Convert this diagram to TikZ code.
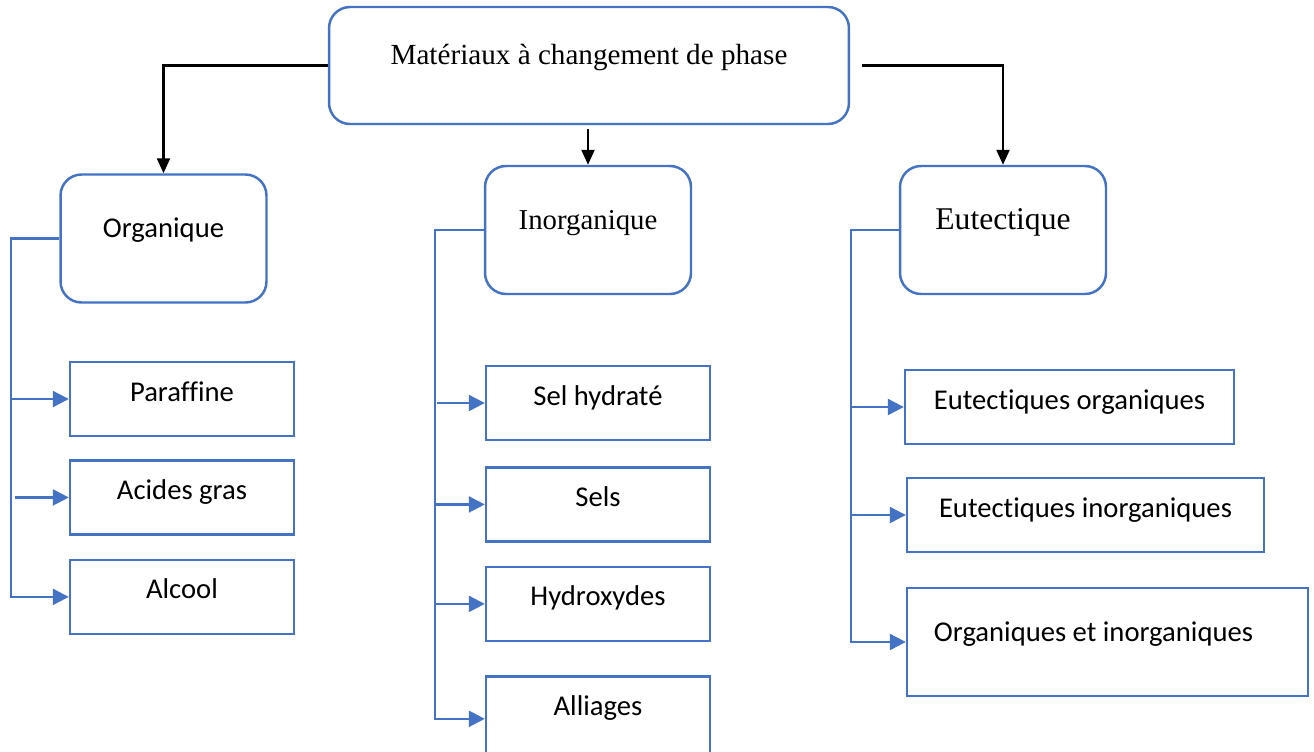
\documentclass[tikz,border=0pt]{standalone}
\usepackage{fontspec}
\setmainfont{Carlito}[Ligatures=NoCommon]
\newfontfamily\timesfont{Liberation Serif}
\usepackage{xcolor}
\usetikzlibrary{positioning,arrows.meta}
\definecolor{ofblue}{RGB}{68,114,196}

\begin{document}
\begin{tikzpicture}[%
    x=0.02cm,
    y=-0.02cm,
    >={Triangle[length=0.3cm,width=0.26cm]},
    font=\fontsize{16.3}{19}\selectfont,
    headbox/.style={%
      rectangle,
      rounded corners=0.42cm,
      draw=ofblue,
      line width=1.4pt,
      minimum width=4.12cm,
      minimum height=2.56cm,
      inner sep=0pt,
      text height=12pt,
      text depth=13pt
    },
    subbox/.style={%
      rectangle,
      draw=ofblue,
      line width=1.4pt,
      minimum width=4.48cm,
      minimum height=1.48cm,
      inner sep=0pt,
      text height=12pt,
      text depth=9.7pt
    },
    branch/.style={%
      draw=ofblue,
      line width=1.3pt,
      -{Triangle[length=0.32cm,width=0.32cm]}
    }
  ]
    \useasboundingbox (0,0) rectangle (1314,751);

    \node[headbox, minimum width=10.4cm, minimum height=2.34cm,
          font=\timesfont\fontsize{16.6}{19}\selectfont] (mcp) at (589,65.5) {Matériaux à changement de phase};
    \node[headbox] (org) at (163.5,238.5) {Organique};
    \node[headbox, font=\timesfont\fontsize{16.4}{19}\selectfont] (inorg) at (588,230) {Inorganique};
    \node[headbox, font=\timesfont\fontsize{18}{21}\selectfont] (eut) at (1003,230) {Eutectique};

    \node[subbox] (para) at (182,399)                    {Paraffine};
    \node[subbox] (acid) [node distance=0.44cm,below=of para] {Acides gras};
    \node[subbox] (alc)  [node distance=0.46cm,below=of acid] {Alcool};

    \node[subbox] (selh) at (598,403)                    {Sel hydraté};
    \node[subbox] (sels) [node distance=0.5cm,below=of selh] {Sels};
    \node[subbox] (hydr) [node distance=0.46cm,below=of sels] {Hydroxydes};
    \node[subbox, minimum height=1.7cm, text depth=16pt] (alli) [node distance=0.66cm,below=of hydr] {Alliages};

    \node[subbox, minimum width=6.58cm] (eorg) at (1069.5,407)   {Eutectiques organiques};
    \node[subbox, minimum width=7.14cm] (einorg) at (1085.5,515) {Eutectiques inorganiques};
    \node[subbox, minimum width=8.02cm, minimum height=2.16cm, text depth=13pt] (oei) at (1107.5,642) {Organiques et inorganiques\hspace*{0.56cm}};

    % black arrows from the top box
    \draw[->, line width=1.3pt] (mcp.west) -| (org.north);
    \draw[->, line width=1.3pt, shorten <=0.08cm] (inorg.north |- mcp.south) -- (inorg.north);
    \draw[->, line width=1.3pt, shorten <=0.24cm] (mcp.east) -| (eut.north);

    % blue branches
    \coordinate (orgbus) at (11,400);
    \coordinate (inorgbus) at (435,400);
    \coordinate (eutbus) at (851,400);

    \draw[branch] (org.west) -| (orgbus) |- (alc.west);
    \draw[branch] (orgbus |- para.west) -- (para.west);
    \draw[branch, shorten <=0.08cm] (orgbus |- acid.west) -- (acid.west);

    \draw[branch] (inorg.west) -| (inorgbus) |- (alli.west);
    \draw[branch, shorten <=0.04cm] (inorgbus |- selh.west) -- (selh.west);
    \draw[branch] (inorgbus |- sels.west) -- (sels.west);
    \draw[branch] (inorgbus |- hydr.west) -- (hydr.west);

    \draw[branch] (eut.west) -| (eutbus) |- (oei.west);
    \draw[branch] (eutbus |- eorg.west) -- (eorg.west);
    \draw[branch] (eutbus |- einorg.west) -- (einorg.west);
\end{tikzpicture}
\end{document}
